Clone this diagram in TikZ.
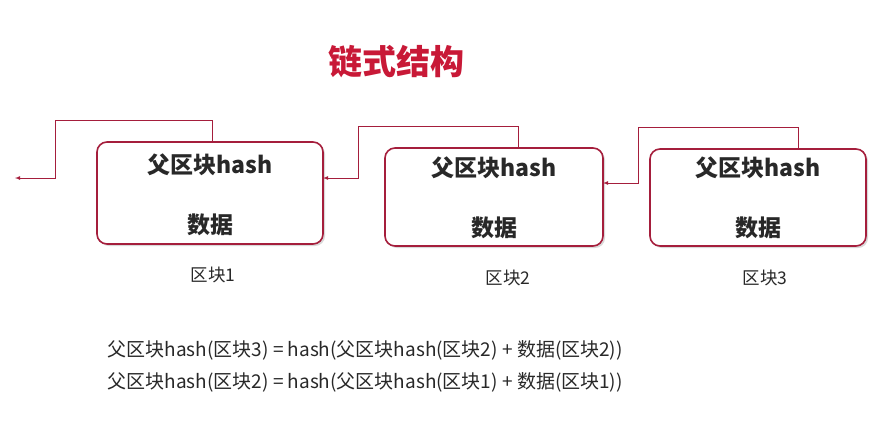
\documentclass[tikz,border=0pt]{standalone}
\usepackage{fontspec}
\setmainfont{Noto Sans CJK SC}
\usetikzlibrary{shadows}
\definecolor{chainred}{RGB}{165,30,60}
\definecolor{titlered}{RGB}{200,25,55}
\definecolor{textgray}{RGB}{40,40,40}
\begin{document}
\begin{tikzpicture}[x=1pt, y=-1pt, thick, text=textgray,
  block/.style = {draw=chainred, line width=1.6pt, rounded corners=10pt, fill=white,
    drop shadow={shadow xshift=2pt, shadow yshift=-2pt, opacity=0.3}},
  link/.style = {draw=chainred, line width=0.8pt, -latex},
  head/.style = {font=\fontsize{23}{27}\selectfont\bfseries},
  blockname/.style = {font=\fontsize{17.5}{21}\selectfont},
  formula/.style = {font=\fontsize{19}{23}\selectfont, anchor=west}]
\useasboundingbox (0,0) rectangle (869,440);
\node[text=titlered, font=\fontsize{34}{38}\selectfont\bfseries] (title) at (396,62) {链式结构};
% blocks
\draw[block] (97,142) rectangle (323,244);
\draw[block] (385,148) rectangle (603,246);
\draw[block] (650,149) rectangle (866,246);
\coordinate (b1r) at (323,178);
\coordinate (b2r) at (603,183);
\node[head] (h1) at (210,165) {父区块hash};
\node[head] (d1) at (210,225) {数据};
\node[head] (h2) at (494,168) {父区块hash};
\node[head] (d2) at (494,228) {数据};
\node[head] (h3) at (758,168) {父区块hash};
\node[head] (d3) at (758,228) {数据};
\node[blockname] (c1) at (213,275) {区块1};
\node[blockname] (c2) at (508,278) {区块2};
\node[blockname] (c3) at (765,278) {区块3};
% links
\coordinate (t1) at (212,142);
\coordinate (t2) at (518,148);
\coordinate (t3) at (798,149);
\coordinate (free) at (15,178);
\draw[link] (t1) |- (55,120) |- (free);
\draw[link] (t2) |- (358,126) |- (b1r);
\draw[link] (t3) |- (638,127) |- (b2r);
% formulas
\node[formula] (f1) at (104,350) {父区块hash(区块3) = hash(父区块hash(区块2) + 数据(区块2))};
\node[formula] (f2) at (104,382) {父区块hash(区块2) = hash(父区块hash(区块1) + 数据(区块1))};
\end{tikzpicture}
\end{document}
